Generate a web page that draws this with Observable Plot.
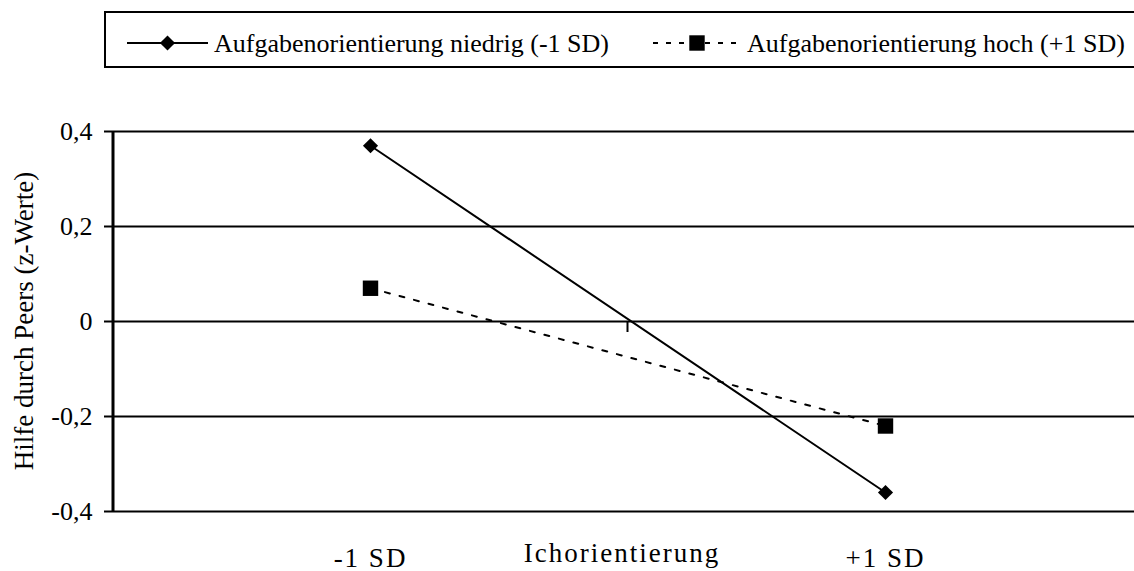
<!DOCTYPE html>
<html>
<head>
<meta charset="utf-8">
<script src="https://cdn.jsdelivr.net/npm/d3@7"></script>
<script src="https://cdn.jsdelivr.net/npm/@observablehq/plot@0.6"></script>
<style>
  html, body { margin: 0; padding: 0; background: #fff; }
  body { width: 1134px; height: 571px; overflow: hidden; position: relative; font-family: "Liberation Serif", Tinos, "Times New Roman", Times, "DejaVu Serif", serif; }
  #legend { position: absolute; left: 104px; top: 11px; width: 1100px; height: 57px; box-sizing: border-box; border: 2px solid #000; }
  .lg-item { position: absolute; top: 0; height: 53px; }
  .lg-item svg { position: absolute; top: 0; left: 0; overflow: visible; }
  .lg-item span { position: absolute; top: 18px; line-height: 26px; font-size: 26px; white-space: nowrap; color: #000; }
  #chart { position: absolute; left: 0; top: 80px; }
</style>
</head>
<body>
<div id="legend"></div>
<div id="chart"></div>
<script>
// ---- data ----
const categories = ["-1 SD", "+1 SD"];
const seriesNames = ["Aufgabenorientierung niedrig (-1 SD)", "Aufgabenorientierung hoch (+1 SD)"];
const niedrigValues = [0.37, -0.36];
const hochValues = [0.07, -0.22];
const yTicks = [0.4, 0.2, 0, -0.2, -0.4];
const xTitle = "Ichorientierung";
const yTitle = "Hilfe durch Peers (z-Werte)";

const rows = [
  ...categories.map((c, i) => ({cat: c, value: niedrigValues[i], series: seriesNames[0]})),
  ...categories.map((c, i) => ({cat: c, value: hochValues[i], series: seriesNames[1]}))
];
const styles = {
  [seriesNames[0]]: {symbol: "diamond2", r: 6.8, dash: null, lgDash: null},
  [seriesNames[1]]: {symbol: "square", r: 8.7, dash: "5,10", lgDash: "5,8"}
};

const FONT = "'Liberation Serif', Tinos, 'Times New Roman', Times, 'DejaVu Serif', serif";
const fmt = d => d === 0 ? "0" : String(d).replace(".", ",");

// y-axis line, centre category tick and rotated y title
const axisMark = (index, scales, values, dimensions) => {
  const g = d3.create("svg:g");
  const x0 = dimensions.marginLeft;
  g.append("line")
    .attr("x1", x0).attr("x2", x0)
    .attr("y1", scales.y(d3.max(yTicks))).attr("y2", scales.y(d3.min(yTicks)))
    .attr("stroke", "#000").attr("stroke-width", 3);
  const xm = (scales.x(categories[0]) + scales.x(categories[1])) / 2;
  g.append("line")
    .attr("x1", xm).attr("x2", xm)
    .attr("y1", scales.y(0)).attr("y2", scales.y(0) + 11)
    .attr("stroke", "#000").attr("stroke-width", 2);
  const yc = (scales.y(d3.max(yTicks)) + scales.y(d3.min(yTicks))) / 2;
  g.append("text")
    .attr("transform", `translate(${x0 - 80},${yc}) rotate(-90)`)
    .attr("text-anchor", "middle")
    .attr("fill", "#000")
    .attr("font-size", 27)
    .text(yTitle);
  return g.node();
};

const chart = Plot.plot({
  width: 1134,
  height: 491,
  marginLeft: 113,
  marginRight: 0,
  marginTop: 51,
  marginBottom: 60,
  style: {fontFamily: FONT, fontSize: "26px", color: "#000", background: "#fff", overflow: "visible"},
  x: {type: "point", domain: categories, range: [370, 885], padding: 0},
  y: {domain: [-0.4, 0.4]},
  marks: [
    Plot.ruleY(yTicks, {stroke: "#000", strokeWidth: 2}),
    Plot.axisY({ticks: yTicks, tickFormat: fmt, tickSize: 9, tickPadding: 12, strokeWidth: 2, fontSize: 26, label: null}),
    Plot.axisX({tickSize: 0, tickPadding: 36, fontSize: 27, label: null}),
    Plot.text([xTitle], {frameAnchor: "bottom", lineAnchor: "top", dy: 31, dx: -2, fontSize: 27, ariaLabel: () => "x-title"}),
    axisMark,
    ...seriesNames.map(s => Plot.line(rows.filter(d => d.series === s), {
      x: "cat", y: "value", stroke: "#000", strokeWidth: 2, strokeDasharray: styles[s].dash
    })),
    ...seriesNames.map(s => Plot.dot(rows.filter(d => d.series === s), {
      x: "cat", y: "value", symbol: () => styles[s].symbol, r: styles[s].r, fill: "#000", stroke: "none"
    }))
  ]
});
// the reference's category labels are set slightly wider
d3.select(chart).selectAll('g[aria-label="x-axis tick label"] text, text[aria-label="x-title"], g[aria-label="x-title"] text')
  .style("letter-spacing", "2px");
d3.select(chart).selectAll("text").filter(function() { return this.textContent === xTitle; })
  .style("letter-spacing", "2px");
document.getElementById("chart").appendChild(chart);

// ---- legend ----
const legend = d3.select("#legend");
const lgPos = [{left: 21, w: 81}, {left: 547, w: 88}];
seriesNames.forEach((s, i) => {
  const item = legend.append("div").attr("class", "lg-item").style("left", lgPos[i].left + "px");
  const sv = item.append("svg").attr("width", lgPos[i].w).attr("height", 40);
  const cy = 30;
  sv.append("line").attr("x1", 0).attr("x2", lgPos[i].w).attr("y1", cy).attr("y2", cy)
    .attr("stroke", "#000").attr("stroke-width", 2)
    .attr("stroke-dasharray", styles[s].lgDash);
  const sym = styles[s].symbol === "square" ? d3.symbolSquare : d3.symbolDiamond2;
  sv.append("path").attr("d", d3.symbol(sym, Math.PI * styles[s].r * styles[s].r)())
    .attr("transform", `translate(${lgPos[i].w / 2},${cy})`).attr("fill", "#000");
  item.append("span").style("left", (lgPos[i].w + 6) + "px").text(s);
});
</script>
</body>
</html>
